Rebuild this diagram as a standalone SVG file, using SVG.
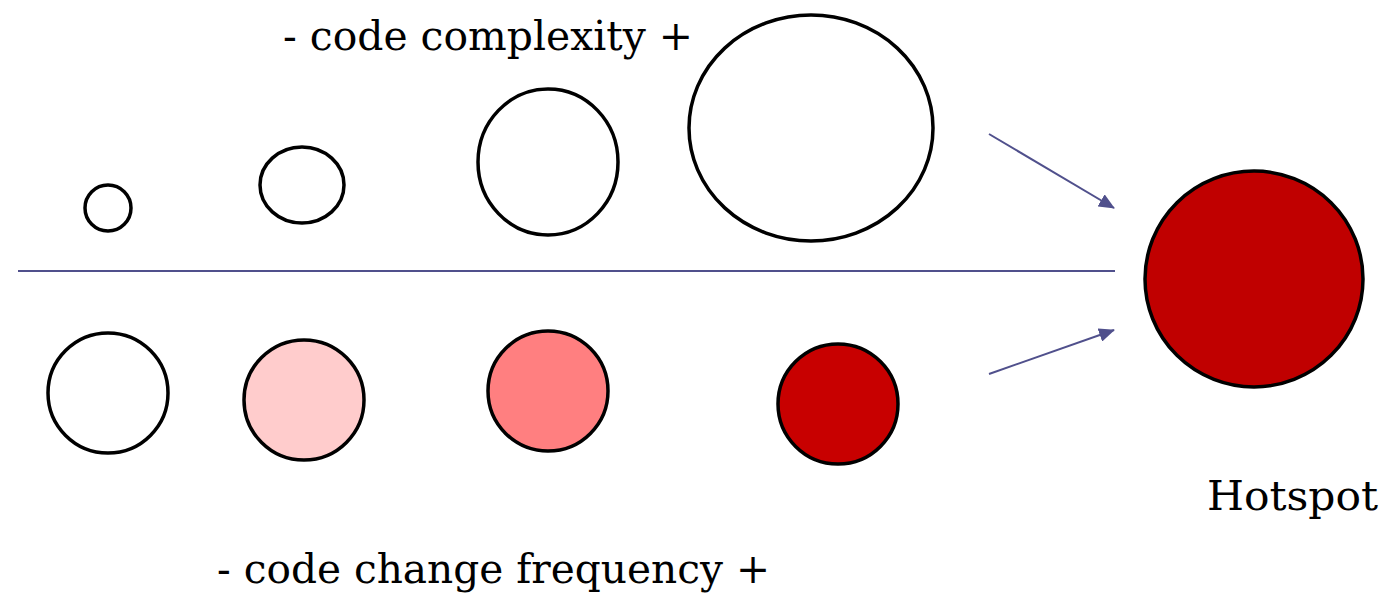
<svg xmlns="http://www.w3.org/2000/svg" width="1388" height="593" viewBox="0 0 1388 593">
<defs>
<marker id="ah" markerWidth="16" markerHeight="14" refX="15" refY="7" orient="auto" markerUnits="userSpaceOnUse" viewBox="0 0 16 14">
<path d="M0,0 L16,7 L0,14 z" fill="#50508C"/>
</marker>
<style>
.c{stroke:#000;stroke-width:3.5}
.t{font-family:"DejaVu Serif","Liberation Serif",serif;font-size:41px;fill:#000}
.ln{stroke:#50508C;stroke-width:2;fill:none}
</style>
</defs>
<rect width="1388" height="593" fill="#fff"/>
<g id="complexity-label"><text class="t" x="283" y="50" textLength="410" lengthAdjust="spacingAndGlyphs">- code complexity +</text></g>
<g id="frequency-label"><text class="t" x="217" y="583" textLength="553" lengthAdjust="spacingAndGlyphs">- code change frequency +</text></g>
<g id="hotspot-label"><text class="t" x="1207" y="510" textLength="171" lengthAdjust="spacingAndGlyphs">Hotspot</text></g>
<g id="cx1"><ellipse class="c" cx="108" cy="208" rx="23" ry="23" fill="#fff"/></g>
<g id="cx2"><ellipse class="c" cx="302" cy="185" rx="42" ry="38" fill="#fff"/></g>
<g id="cx3"><ellipse class="c" cx="548" cy="162" rx="70" ry="73" fill="#fff"/></g>
<g id="cx4"><ellipse class="c" cx="811" cy="128" rx="122" ry="113" fill="#fff"/></g>
<g id="cf1"><circle class="c" cx="108" cy="393" r="60" fill="#fff"/></g>
<g id="cf2"><circle class="c" cx="304" cy="400" r="60" fill="#FFCCCC"/></g>
<g id="cf3"><circle class="c" cx="548" cy="391" r="60" fill="#FF7F80"/></g>
<g id="cf4"><circle class="c" cx="838" cy="404" r="60" fill="#C80000"/></g>
<g id="hotspot"><ellipse class="c" cx="1254" cy="279" rx="109" ry="108" fill="#C00000"/></g>
<g id="connectors">
<line class="ln" x1="18" y1="271" x2="1115" y2="271"/>
<line class="ln" x1="989" y1="134" x2="1114" y2="208" stroke-width="2.5" marker-end="url(#ah)"/>
<line class="ln" x1="989" y1="374" x2="1114" y2="330" stroke-width="2.5" marker-end="url(#ah)"/>
</g>
</svg>
